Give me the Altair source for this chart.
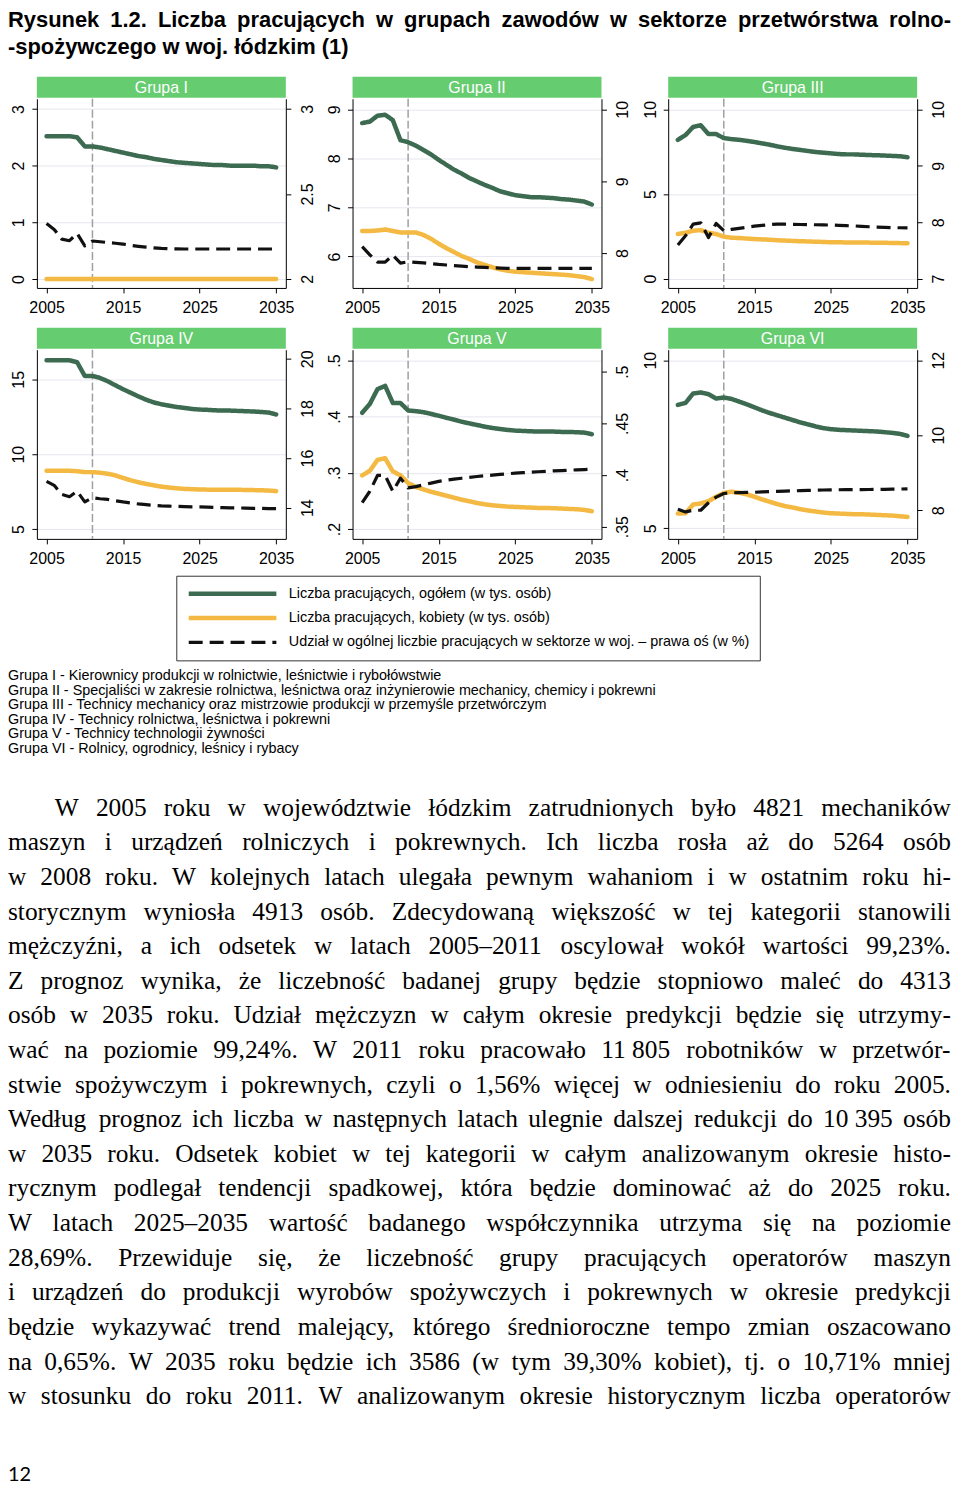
import altair as alt
import pandas as pd

# ---------------- data ----------------
YEARS = list(range(2005, 2036))
BOUNDARY_YEAR = 2011
PANEL_NAMES = ["Grupa I", "Grupa II", "Grupa III", "Grupa IV", "Grupa V", "Grupa VI"]
SERIES = ["Liczba pracujących, ogółem (w tys. osób)",
          "Liczba pracujących, kobiety (w tys. osób)",
          "Udział w ogólnej liczbie pracujących w sektorze w woj. – prawa oś (w %)"]

G1_TOTAL = [2.52, 2.52, 2.52, 2.52, 2.50, 2.34, 2.34, 2.32, 2.29, 2.26, 2.23, 2.20, 2.17, 2.15, 2.12, 2.10,
            2.08, 2.06, 2.05, 2.04, 2.03, 2.02, 2.01, 2.01, 2.00, 2.00, 2.00, 2.00, 1.99, 1.99, 1.97]
G1_FEMALE = [0.0, 0.0, 0.0, 0.0, 0.0, 0.0, 0.0, 0.0, 0.0, 0.0, 0.0, 0.0, 0.0, 0.0, 0.0, 0.0,
             0.0, 0.0, 0.0, 0.0, 0.0, 0.0, 0.0, 0.0, 0.0, 0.0, 0.0, 0.0, 0.0, 0.0, 0.0]
G1_SHARE = [2.326, 2.291, 2.234, 2.225, 2.268, 2.195, 2.223, 2.219, 2.214, 2.210, 2.205, 2.198, 2.192, 2.187,
            2.183, 2.180, 2.178, 2.177, 2.176, 2.176, 2.176, 2.176, 2.176, 2.176, 2.176, 2.176, 2.176, 2.176,
            2.176, 2.176, 2.176]

G2_TOTAL = [8.72, 8.75, 8.87, 8.89, 8.78, 8.37, 8.33, 8.26, 8.17, 8.08, 7.97, 7.87, 7.77, 7.69, 7.60, 7.53,
            7.46, 7.40, 7.33, 7.29, 7.25, 7.23, 7.21, 7.21, 7.20, 7.19, 7.17, 7.16, 7.14, 7.12, 7.06]
G2_FEMALE = [6.52, 6.52, 6.53, 6.55, 6.52, 6.49, 6.49, 6.49, 6.44, 6.36, 6.26, 6.17, 6.09, 6.01, 5.95, 5.88,
             5.83, 5.78, 5.74, 5.71, 5.69, 5.68, 5.67, 5.66, 5.65, 5.64, 5.63, 5.62, 5.60, 5.58, 5.54]
G2_SHARE = [8.092, 7.977, 7.876, 7.876, 7.972, 7.862, 7.880, 7.872, 7.865, 7.855, 7.844, 7.836, 7.828, 7.820,
            7.813, 7.807, 7.802, 7.797, 7.793, 7.790, 7.789, 7.789, 7.789, 7.789, 7.789, 7.789, 7.789, 7.789,
            7.789, 7.789, 7.789]

G3_TOTAL = [8.20, 8.48, 8.96, 9.06, 8.54, 8.54, 8.30, 8.24, 8.20, 8.14, 8.07, 7.99, 7.91, 7.81, 7.73, 7.66,
            7.60, 7.54, 7.48, 7.44, 7.40, 7.36, 7.34, 7.34, 7.32, 7.30, 7.29, 7.27, 7.25, 7.23, 7.17]
G3_FEMALE = [2.64, 2.71, 2.83, 2.87, 2.71, 2.64, 2.48, 2.42, 2.40, 2.37, 2.34, 2.32, 2.30, 2.27, 2.25, 2.23,
             2.21, 2.20, 2.18, 2.17, 2.15, 2.15, 2.14, 2.14, 2.13, 2.13, 2.12, 2.12, 2.11, 2.10, 2.09]
G3_SHARE = [7.598, 7.760, 7.967, 7.990, 7.730, 7.978, 7.850, 7.873, 7.890, 7.910, 7.930, 7.945, 7.958, 7.967,
            7.965, 7.962, 7.960, 7.958, 7.955, 7.952, 7.950, 7.945, 7.940, 7.935, 7.928, 7.920, 7.915, 7.910,
            7.905, 7.902, 7.900]

G4_TOTAL = [16.27, 16.27, 16.27, 16.27, 16.14, 15.22, 15.22, 15.09, 14.87, 14.60, 14.34, 14.10, 13.86, 13.64,
            13.46, 13.33, 13.24, 13.15, 13.09, 13.02, 12.98, 12.96, 12.93, 12.91, 12.91, 12.89, 12.87, 12.85,
            12.82, 12.78, 12.65]
G4_FEMALE = [8.89, 8.89, 8.89, 8.89, 8.86, 8.80, 8.80, 8.76, 8.69, 8.58, 8.41, 8.25, 8.12, 8.01, 7.92, 7.83,
             7.77, 7.72, 7.68, 7.66, 7.64, 7.63, 7.63, 7.62, 7.62, 7.62, 7.61, 7.60, 7.59, 7.57, 7.53]
G4_SHARE = [15.06, 14.90, 14.53, 14.44, 14.66, 14.23, 14.40, 14.36, 14.33, 14.28, 14.23, 14.19, 14.15, 14.12,
            14.09, 14.07, 14.06, 14.05, 14.04, 14.03, 14.03, 14.02, 14.01, 14.00, 13.99, 13.99, 13.98, 13.97,
            13.97, 13.96, 13.96]

G5_TOTAL = [0.4069, 0.4227, 0.4490, 0.4549, 0.4244, 0.4244, 0.4110, 0.4098, 0.4080, 0.4050, 0.4016, 0.3980,
            0.3946, 0.3910, 0.3880, 0.3852, 0.3822, 0.3799, 0.3781, 0.3764, 0.3752, 0.3746, 0.3740, 0.3735,
            0.3735, 0.3735, 0.3729, 0.3729, 0.3723, 0.3717, 0.3688]
G5_FEMALE = [0.2955, 0.3037, 0.3231, 0.3260, 0.3026, 0.2955, 0.2820, 0.2750, 0.2704, 0.2663, 0.2627, 0.2592,
             0.2557, 0.2522, 0.2493, 0.2463, 0.2440, 0.2422, 0.2410, 0.2399, 0.2393, 0.2387, 0.2381, 0.2375,
             0.2375, 0.2370, 0.2364, 0.2358, 0.2352, 0.2340, 0.2317]
G5_SHARE = [0.3732, 0.3843, 0.3996, 0.3996, 0.3843, 0.3970, 0.3875, 0.3888, 0.3905, 0.3922, 0.3939, 0.3950,
            0.3960, 0.3969, 0.3978, 0.3986, 0.3993, 0.3999, 0.4006, 0.4012, 0.4018, 0.4023, 0.4027, 0.4032,
            0.4036, 0.4040, 0.4043, 0.4047, 0.4050, 0.4053, 0.4056]

G6_TOTAL = [8.67, 8.73, 9.01, 9.04, 8.99, 8.86, 8.89, 8.85, 8.77, 8.69, 8.60, 8.51, 8.43, 8.36, 8.29, 8.22,
            8.15, 8.09, 8.03, 7.98, 7.95, 7.93, 7.92, 7.91, 7.90, 7.89, 7.88, 7.86, 7.84, 7.81, 7.75]
G6_FEMALE = [5.44, 5.45, 5.71, 5.74, 5.81, 5.94, 6.05, 6.09, 6.06, 6.01, 5.94, 5.86, 5.79, 5.72, 5.66, 5.62,
             5.57, 5.53, 5.50, 5.47, 5.45, 5.44, 5.43, 5.42, 5.42, 5.41, 5.40, 5.39, 5.38, 5.36, 5.34]
G6_SHARE = [8.026, 7.956, 8.000, 8.000, 8.200, 8.350, 8.447, 8.465, 8.470, 8.475, 8.480, 8.490, 8.500, 8.505,
            8.512, 8.518, 8.523, 8.528, 8.534, 8.540, 8.544, 8.546, 8.548, 8.550, 8.552, 8.553, 8.556, 8.559,
            8.563, 8.566, 8.570]

TOTALS = [G1_TOTAL, G2_TOTAL, G3_TOTAL, G4_TOTAL, G5_TOTAL, G6_TOTAL]
FEMALES = [G1_FEMALE, G2_FEMALE, G3_FEMALE, G4_FEMALE, G5_FEMALE, G6_FEMALE]
SHARES = [G1_SHARE, G2_SHARE, G3_SHARE, G4_SHARE, G5_SHARE, G6_SHARE]

X_TICKS = [2005, 2015, 2025, 2035]
LEFT_DOMAINS = [[-0.158, 3.181], [5.359, 9.216], [-0.547, 10.625], [4.34, 16.98], [0.1824, 0.5193], [4.687, 10.313]]
LEFT_TICKS = [[0, 1, 2, 3], [6, 7, 8, 9], [0, 5, 10], [5, 10, 15], [0.2, 0.3, 0.4, 0.5], [5, 10]]
RIGHT_DOMAINS = [[1.947, 3.060], [7.517, 10.147], [6.836, 10.1875], [12.74, 20.37], [0.3382, 0.5213], [7.237, 12.28]]
RIGHT_TICKS = [[2, 2.5, 3], [8, 9, 10], [7, 8, 9, 10], [14, 16, 18, 20], [0.35, 0.4, 0.45, 0.5], [8, 10, 12]]

TITLE_LINES = ["Rysunek 1.2. Liczba pracujących w grupach zawodów w sektorze przetwórstwa rolno-",
               "-spożywczego w woj. łódzkim (1)"]
NOTES = ["Grupa I - Kierownicy produkcji w rolnictwie, leśnictwie i rybołówstwie",
         "Grupa II - Specjaliści w zakresie rolnictwa, leśnictwa oraz inżynierowie mechanicy, chemicy i pokrewni",
         "Grupa III - Technicy mechanicy oraz mistrzowie produkcji w przemyśle przetwórczym",
         "Grupa IV - Technicy rolnictwa, leśnictwa i pokrewni",
         "Grupa V - Technicy technologii żywności",
         "Grupa VI - Rolnicy, ogrodnicy, leśnicy i rybacy"]
BODY_LINES = [
    "W 2005 roku w województwie łódzkim zatrudnionych było 4821 mechaników",
    "maszyn i urządzeń rolniczych i pokrewnych. Ich liczba rosła aż do 5264 osób",
    "w 2008 roku. W kolejnych latach ulegała pewnym wahaniom i w ostatnim roku hi-",
    "storycznym wyniosła 4913 osób. Zdecydowaną większość w tej kategorii stanowili",
    "mężczyźni, a ich odsetek w latach 2005–2011 oscylował wokół wartości 99,23%.",
    "Z prognoz wynika, że liczebność badanej grupy będzie stopniowo maleć do 4313",
    "osób w 2035 roku. Udział mężczyzn w całym okresie predykcji będzie się utrzymy-",
    "wać na poziomie 99,24%. W 2011 roku pracowało 11\u00a0805 robotników w przetwór-",
    "stwie spożywczym i pokrewnych, czyli o 1,56% więcej w odniesieniu do roku 2005.",
    "Według prognoz ich liczba w następnych latach ulegnie dalszej redukcji do 10\u00a0395 osób",
    "w 2035 roku. Odsetek kobiet w tej kategorii w całym analizowanym okresie histo-",
    "rycznym podlegał tendencji spadkowej, która będzie dominować aż do 2025 roku.",
    "W latach 2025–2035 wartość badanego współczynnika utrzyma się na poziomie",
    "28,69%. Przewiduje się, że liczebność grupy pracujących operatorów maszyn",
    "i urządzeń do produkcji wyrobów spożywczych i pokrewnych w okresie predykcji",
    "będzie wykazywać trend malejący, którego średnioroczne tempo zmian oszacowano",
    "na 0,65%. W 2035 roku będzie ich 3586 (w tym 39,30% kobiet), tj. o 10,71% mniej",
    "w stosunku do roku 2011. W analizowanym okresie historycznym liczba operatorów",
]
PAGE_NUMBER = "12"

# ---------------- styles ----------------
SANS = "Liberation Sans"
SERIF = "Liberation Serif"
GREEN = "#3d6b51"
YELLOW = "#f4b942"
BLACK = "#111111"
HEADER_GREEN = "#66cc70"
GRID = "#e6e6ef"
X_DOMAIN = [2003.74, 2036.26]
PW, PH, HH = 250, 190, 21
LEFT_OFF, GAP = 29, 67
CW = 947  # chart content width
TITLE_H = 66
XLAB_PAD = 7
BELOW = 5 + XLAB_PAD + 16  # extent of x-axis ticks+labels below a plot row

# font metrics (per 1000 em) for layout of justified page text
_LOWER_T = dict(zip("abcdefghijklmnopqrstuvwxyz",
                    [444, 500, 444, 500, 444, 333, 500, 500, 278, 278, 500, 278, 778, 500, 500, 500, 500, 333,
                     389, 278, 500, 500, 722, 500, 500, 444]))
_UPPER_T = dict(zip("ABCDEFGHIJKLMNOPQRSTUVWXYZ",
                    [722, 667, 667, 722, 611, 556, 722, 722, 333, 389, 722, 611, 889, 722, 722, 556, 722, 667,
                     556, 611, 722, 722, 944, 722, 722, 611]))
TIMES = {**_LOWER_T, **_UPPER_T, " ": 250, ",": 250, ".": 250, "-": 333, "–": 500, "%": 833, "(": 333,
         ")": 333, ":": 278, **{d: 500 for d in "0123456789"}}
_LOWER_HB = dict(zip("abcdefghijklmnopqrstuvwxyz",
                     [556, 611, 556, 611, 556, 333, 611, 611, 278, 278, 556, 278, 889, 611, 611, 611, 611, 389,
                      556, 333, 611, 556, 778, 556, 556, 500]))
_UPPER_HB = dict(zip("ABCDEFGHIJKLMNOPQRSTUVWXYZ",
                     [722, 722, 722, 722, 667, 611, 778, 722, 278, 556, 722, 611, 833, 722, 778, 667, 778, 722,
                      667, 611, 722, 667, 944, 667, 667, 611]))
HELV_BOLD = {**_LOWER_HB, **_UPPER_HB, " ": 278, ",": 278, ".": 278, "-": 333, "(": 333, ")": 333,
             **{d: 556 for d in "0123456789"}}
_LOWER_H = dict(zip("abcdefghijklmnopqrstuvwxyz",
                    [556, 556, 500, 556, 556, 278, 556, 556, 222, 222, 500, 222, 833, 556, 556, 556, 556, 333,
                     500, 278, 556, 500, 722, 500, 500, 500]))
_UPPER_H = dict(zip("ABCDEFGHIJKLMNOPQRSTUVWXYZ",
                    [667, 667, 722, 722, 667, 611, 778, 722, 278, 500, 667, 556, 833, 722, 778, 667, 778, 722,
                     667, 611, 722, 667, 944, 667, 667, 611]))
HELV = {**_LOWER_H, **_UPPER_H, " ": 278, ",": 278, ".": 278, "-": 333, "(": 333, ")": 333, "%": 889,
        "–": 556, **{d: 556 for d in "0123456789"}}
BASE = {"ą": "a", "ć": "c", "ę": "e", "ł": "l", "ń": "n", "ó": "o", "ś": "s", "ź": "z", "ż": "z",
        "Ł": "L", "Ś": "S", "Ż": "Z", "Ź": "Z", "\u00a0": " "}


def em(s, table):
    return sum(table.get(BASE.get(c, c), 500) for c in s) / 1000.0


def justify(line, table, fs, x0, x1, y):
    words = line.split(" ")
    widths = [em(w, table) * fs for w in words]
    gap = (x1 - x0 - sum(widths)) / (len(words) - 1) if len(words) > 1 else 0
    rows, x = [], x0
    for w, wd in zip(words, widths):
        rows.append({"word": w, "x": x, "y": y})
        x += wd + gap
    return rows


NOTE_FS = round(652.0 / em(NOTES[1], HELV), 2)
TITLE_FS = 22
BODY_FS = 25.5
for i, ln in enumerate(BODY_LINES):
    x0 = 47 if i == 0 else 0
    ws = ln.split(" ")
    BODY_FS = min(BODY_FS, (CW - x0) / (sum(em(w, TIMES) for w in ws) + 0.2 * (len(ws) - 1)))

LAB = ("datum.value > 0 && datum.value < 1 ? replace(toString(datum.value), '0.', '.') "
       ": toString(datum.value)")

LEG = alt.Legend(orient="none", legendX=169, legendY=567, title=None, symbolType="stroke",
                 symbolSize=7744, clipHeight=16, rowPadding=8.5, labelOffset=10, padding=10,
                 strokeColor="#333333", fillColor="white", labelFont=SANS, labelFontSize=NOTE_FS,
                 labelColor="black", labelLimit=800)
COLOR_SCALE = alt.Scale(domain=SERIES, range=[GREEN, YELLOW, BLACK])
DASH_SCALE = alt.Scale(domain=SERIES, range=[[1, 0], [1, 0], [14, 7]])
WIDTH_SCALE = alt.Scale(type="ordinal", domain=SERIES, range=[4.5, 4.5, 3.2])


def x_enc():
    return alt.X("year:Q", scale=alt.Scale(domain=X_DOMAIN, nice=False, zero=False),
                 axis=alt.Axis(values=X_TICKS, format="d", title=None, grid=False, labelFontSize=16,
                               labelFont=SANS, labelColor="black", labelFlush=False, labelOverlap=False,
                               tickSize=5, tickColor="black", domainColor="black", labelPadding=XLAB_PAD))


def style_enc():
    return dict(color=alt.Color("series:N", scale=COLOR_SCALE, legend=LEG),
                strokeDash=alt.StrokeDash("series:N", scale=DASH_SCALE, legend=LEG),
                strokeWidth=alt.StrokeWidth("series:N", scale=WIDTH_SCALE, legend=LEG))


def spacer(w, h):
    return alt.Chart(pd.DataFrame({"a": [0]})).mark_text(text="").properties(width=w, height=h)


def header(name):
    base = alt.Chart(pd.DataFrame({"label": [name]}))
    rect = base.mark_rect(color=HEADER_GREEN).encode(x=alt.value(0), x2=alt.value(PW), y=alt.value(0),
                                                      y2=alt.value(HH))
    txt = base.mark_text(color="white", font=SANS, fontSize=16, baseline="middle").encode(
        x=alt.value(PW / 2), y=alt.value(HH / 2 + 0.5), text="label:N")
    return alt.layer(rect, txt).properties(width=PW, height=HH)


def plot(i):
    left_df = pd.DataFrame({"year": YEARS * 2, "value": TOTALS[i] + FEMALES[i],
                            "series": [SERIES[0]] * len(YEARS) + [SERIES[1]] * len(YEARS)})
    right_df = pd.DataFrame({"year": YEARS, "value": SHARES[i], "series": [SERIES[2]] * len(YEARS)})
    rule = alt.Chart(pd.DataFrame({"year": [BOUNDARY_YEAR]})).mark_rule(
        color="#a0a0a0", strokeDash=[8, 3], strokeWidth=1.5).encode(x=x_enc())
    left = alt.Chart(left_df).mark_line(strokeCap="round", strokeJoin="round").encode(
        x=x_enc(),
        y=alt.Y("value:Q", scale=alt.Scale(domain=LEFT_DOMAINS[i], nice=False, zero=False),
                axis=alt.Axis(orient="left", values=LEFT_TICKS[i], title=None, labelExpr=LAB, labelAngle=270,
                              labelAlign="center", labelBaseline="bottom", labelPadding=5, tickSize=5,
                              labelFontSize=16, labelFont=SANS, labelColor="black", tickColor="black",
                              domainColor="black", grid=True, gridColor=GRID, gridWidth=1,
                              labelOverlap=False, labelFlush=False)),
        **style_enc())
    right = alt.Chart(right_df).mark_line(strokeCap="butt", strokeJoin="round").encode(
        x=x_enc(),
        y=alt.Y("value:Q", scale=alt.Scale(domain=RIGHT_DOMAINS[i], nice=False, zero=False),
                axis=alt.Axis(orient="right", values=RIGHT_TICKS[i], title=None, labelExpr=LAB, labelAngle=270,
                              labelAlign="center", labelBaseline="top", labelPadding=8.5, tickSize=5,
                              labelFontSize=16, labelFont=SANS, labelColor="black", tickColor="black",
                              domainColor="black", grid=False, labelOverlap=False, labelFlush=False)),
        **style_enc())
    return alt.layer(rule, left, right).resolve_scale(y="independent").properties(width=PW, height=PH)


def strip(items, h):
    seq = [spacer(LEFT_OFF, h)]
    for k, it in enumerate(items):
        if k:
            seq.append(spacer(GAP, h))
        seq.append(it)
    return alt.hconcat(*seq, spacing=0, bounds="flush")


# title block (clipped to its own box so it never pushes the page down)
title_rows = justify(TITLE_LINES[0], HELV_BOLD, TITLE_FS, 0, CW, 16)
title_rows.append({"word": TITLE_LINES[1], "x": 0, "y": 43})
title_view = alt.Chart(pd.DataFrame(title_rows)).mark_text(
    align="left", baseline="alphabetic", font=SANS, fontWeight="bold", fontSize=TITLE_FS, color="black",
    clip=True
).encode(x=alt.X("x:Q", scale=None, axis=None), y=alt.Y("y:Q", scale=None, axis=None),
         text="word:N").properties(width=CW, height=TITLE_H)

# text block below the panels
TOP = 339 + PH + BELOW
note_df = pd.DataFrame({"word": NOTES, "x": [0] * len(NOTES),
                        "y": [667 - TOP + k * 14.6 for k in range(len(NOTES))]})
body_rows = []
for k, ln in enumerate(BODY_LINES):
    body_rows += justify(ln, TIMES, BODY_FS, 47 if k == 0 else 0, CW, 807 - TOP + k * 34.76)
body_df = pd.DataFrame(body_rows)
page_df = pd.DataFrame({"word": [PAGE_NUMBER], "x": [0], "y": [1469 - TOP]})


def text_layer(df, **kw):
    return alt.Chart(df).mark_text(align="left", color="black", **kw).encode(
        x=alt.X("x:Q", scale=None, axis=None), y=alt.Y("y:Q", scale=None, axis=None), text="word:N")


text_view = alt.layer(
    text_layer(note_df, baseline="middle", font=SANS, fontSize=NOTE_FS),
    text_layer(body_df, baseline="alphabetic", font=SERIF, fontSize=BODY_FS),
    text_layer(page_df, baseline="middle", font="Lato", fontSize=20),
).properties(width=CW, height=1462 - TOP)

chart = alt.vconcat(
    title_view,
    strip([header(PANEL_NAMES[i]) for i in range(3)], HH),
    strip([plot(i) for i in range(3)], PH),
    spacer(10, 318 - (89 + PH + BELOW)),
    strip([header(PANEL_NAMES[i]) for i in range(3, 6)], HH),
    strip([plot(i) for i in range(3, 6)], PH),
    text_view,
    spacing=0
).properties(padding=0, background="white").configure_view(stroke=None)

chart.save("out.html", embed_options={"renderer": "svg", "actions": False})
